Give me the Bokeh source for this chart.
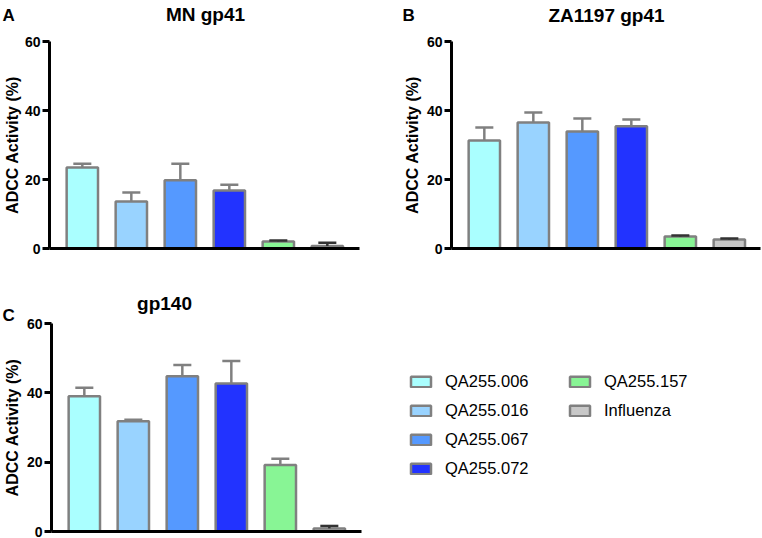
import math
from bokeh.plotting import figure
from bokeh.models import (ColumnDataSource, Label, Legend, LegendItem, Range1d,
                          FixedTicker, LinearAxis)
from bokeh.layouts import row, column
from bokeh.embed import file_html
from bokeh.resources import INLINE

# ---------------- data ----------------
groups = ["QA255.006", "QA255.016", "QA255.067", "QA255.072", "QA255.157", "Influenza"]
mn_gp41 = [23.5, 13.6, 19.8, 16.8, 2.0, 0.7]
mn_gp41_sem = [1.1, 2.6, 4.8, 1.7, 0.3, 1.0]
za1197_gp41 = [31.3, 36.5, 33.9, 35.4, 3.5, 2.6]
za1197_gp41_sem = [3.8, 2.9, 3.8, 2.0, 0.3, 0.3]
gp140 = [39.0, 31.8, 44.8, 42.7, 19.2, 0.9]
gp140_sem = [2.5, 0.4, 3.2, 6.5, 1.8, 0.7]
y_ticks = [0, 20, 40, 60]
y_label = "ADCC Activity (%)"

# ---------------- style ----------------
colors = ["#AAFFFF", "#99D3FF", "#5599FF", "#2233FF", "#88F595", "#C8C8C8"]
EDGE = "#808080"
DARK = "#333333"
FONT = "Liberation Sans"
PX_PER_CAT = 49.0
X_AXIS_START = -0.67


def panel(vals, sems, cap_colors, title, letter, ox, oy, W, H,
          axis_x_img, y0_img, y60_img, x_axis_end, title_pos, letter_pos, ylab_x):
    # ranges chosen so that the frame fills the whole figure
    x_start = X_AXIS_START - (axis_x_img - ox) / PX_PER_CAT
    ppu_y = (y0_img - y60_img) / 60.0
    y_start = -(oy + H - y0_img) / ppu_y
    p = figure(width=W, height=H, output_backend="svg", toolbar_location=None,
               x_range=Range1d(x_start, x_start + W / PX_PER_CAT),
               y_range=Range1d(y_start, y_start + H / ppu_y),
               x_axis_location=None, y_axis_location=None,
               min_border_left=0, min_border_right=0, min_border_top=0, min_border_bottom=0)
    p.outline_line_color = None
    p.xgrid.visible = False
    p.ygrid.visible = False

    xs = list(range(len(groups)))
    src = ColumnDataSource(dict(
        x=xs, top=vals, err=[v + s for v, s in zip(vals, sems)],
        c0=[x - 0.184 for x in xs], c1=[x + 0.184 for x in xs],
        color=colors, capc=cap_colors))
    bars = p.vbar(x="x", top="top", bottom=0, width=0.64, source=src,
                  fill_color="color", line_color=EDGE, line_width=2.5)
    p.segment(x0="x", y0="top", x1="x", y1="err", source=src, line_color="capc", line_width=2.5)
    p.segment(x0="c0", y0="err", x1="c1", y1="err", source=src, line_color="capc", line_width=2.5)

    xaxis = LinearAxis(fixed_location=0, bounds=(X_AXIS_START, x_axis_end),
                       ticker=FixedTicker(ticks=[]))
    xaxis.axis_line_width = 3
    xaxis.axis_line_color = "black"
    xaxis.major_tick_line_color = None
    xaxis.minor_tick_line_color = None
    xaxis.major_label_text_font_size = "0px"
    p.add_layout(xaxis, "below")

    yaxis = LinearAxis(fixed_location=X_AXIS_START, bounds=(0, 60),
                       ticker=FixedTicker(ticks=y_ticks))
    yaxis.axis_line_width = 3
    yaxis.axis_line_color = "black"
    yaxis.major_tick_line_width = 3
    yaxis.major_tick_line_color = "black"
    yaxis.major_tick_out = 7
    yaxis.major_tick_in = 0
    yaxis.minor_tick_line_color = None
    yaxis.major_label_standoff = 2
    yaxis.major_label_text_font = FONT
    yaxis.major_label_text_font_style = "bold"
    yaxis.major_label_text_font_size = "14px"
    yaxis.major_label_text_color = "black"
    p.add_layout(yaxis, "left")

    def txt(text, ix, iy, size, align="left", baseline="alphabetic", angle=0.0):
        p.add_layout(Label(x=ix - ox, y=(oy + H) - iy, x_units="screen", y_units="screen",
                           text=text, text_font=FONT, text_font_size=f"{size}px",
                           text_font_style="bold", text_align=align, text_baseline=baseline,
                           angle=angle, text_color="black"))

    txt(title, title_pos[0], title_pos[1], 19, align="center")
    txt(letter, letter_pos[0], letter_pos[1], 17)
    txt(y_label, ylab_x, (y0_img + y60_img) / 2, 16, align="center", baseline="middle",
        angle=math.pi / 2)
    return p, bars


pA, _ = panel(mn_gp41, mn_gp41_sem, [EDGE, EDGE, EDGE, EDGE, DARK, DARK], "MN gp41", "A",
              0, 0, 377, 262, 49, 248, 41, 5.65, (205, 14), (2, 15), 12)
pB, _ = panel(za1197_gp41, za1197_gp41_sem, [EDGE, EDGE, EDGE, EDGE, DARK, DARK],
              "ZA1197 gp41", "B", 377, 0, 385, 262, 451, 248, 41, 5.64,
              (606, 15), (402, 15), 412)
pC, barsC = panel(gp140, gp140_sem, [EDGE, EDGE, EDGE, EDGE, EDGE, DARK], "gp140", "C",
                  0, 262, 762, 276, 51, 531, 323, 5.65, (164, 303), (2, 315), 12)

# legend (two blocks): rows centred at image y 381 (+29 each); swatches at x 408 / 567
C_OY, C_H = 262, 276
ROW_H, ROW_GAP = 19, 10
legend_top = 381 - C_OY - ROW_H / 2


def make_legend(idx, x_img):
    its = [LegendItem(label=groups[i], renderers=[barsC], index=i) for i in idx]
    h = len(idx) * ROW_H + (len(idx) - 1) * ROW_GAP
    return Legend(items=its, location=(x_img, C_H - legend_top - h), orientation="vertical",
                  glyph_width=25, glyph_height=13, label_height=13, label_standoff=12,
                  spacing=ROW_GAP, padding=0, margin=0, border_line_color=None,
                  background_fill_alpha=0, label_text_font=FONT, label_text_font_size="16.5px",
                  label_text_color="black")


pC.add_layout(make_legend([0, 1, 2, 3], 408))
pC.add_layout(make_legend([4, 5], 567))

layout = column(row(pA, pB), pC)

open("out.html", "w").write(file_html(layout, INLINE))
